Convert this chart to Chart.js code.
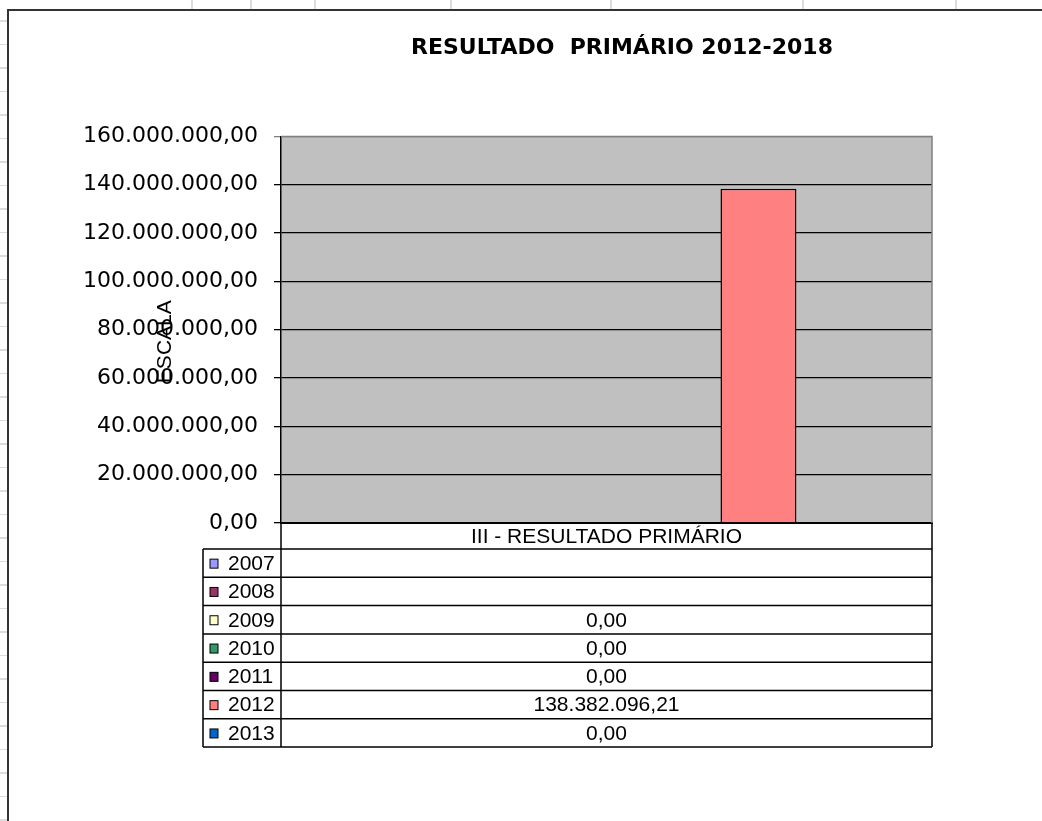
<!DOCTYPE html>
<html>
<head>
<meta charset="utf-8">
<script src="https://cdn.jsdelivr.net/npm/chart.js@4.4.1/dist/chart.umd.min.js"></script>
<style>
  html, body { margin: 0; padding: 0; background: #fff; overflow: hidden; width: 1042px; height: 821px; }
  /* spreadsheet cells behind the chart object */
  #rows { position: absolute; left: 0; top: 0; width: 7px; height: 821px;
    background: repeating-linear-gradient(to bottom, transparent 0px, transparent 20px, #dcdcdc 20px, #dcdcdc 21.5px, transparent 21.5px, transparent 23.5px); }
  .col { position: absolute; top: 0; width: 2px; height: 10px; background: #dcdcdc; }
  #frame { position: absolute; left: 7px; top: 9px; width: 1240px; height: 830px;
    border-left: 2px solid #333; border-top: 2px solid #333; background: #fff; }
  #wrap { position: absolute; left: 0; top: 0; width: 1226px; height: 810px; }
</style>
</head>
<body>
<div id="rows"></div>
<div class="col" style="left:191px"></div>
<div class="col" style="left:250px"></div>
<div class="col" style="left:314px"></div>
<div class="col" style="left:450px"></div>
<div class="col" style="left:610px"></div>
<div class="col" style="left:802px"></div>
<div class="col" style="left:955px"></div>
<div id="frame"><div id="wrap"><canvas id="chart"></canvas></div></div>
<script>
// data
const categories = ["III - RESULTADO PRIMÁRIO"];
const years = ["2007", "2008", "2009", "2010", "2011", "2012", "2013"];
const values = [null, null, 0, 0, 0, 138382096.21, 0];
const colors = ["#9999FF", "#993366", "#FFFFCC", "#339966", "#660066", "#FF8080", "#0066CC"];
const yMax = 160000000;
const yStep = 20000000;

const title = "RESULTADO  PRIMÁRIO 2012-2018";
const yTitle = "ESCALA";

function fmtBR(v) {
	var parts = v.toFixed(2).split(".");
	return parts[0].replace(/\B(?=(\d{3})+(?!\d))/g, ".") + "," + parts[1];
}

// gray plot background
const plotBg = {
	id: "plotBg",
	beforeDraw(chart) {
		const a = chart.chartArea, ctx = chart.ctx;
		ctx.save();
		ctx.fillStyle = "#C0C0C0";
		ctx.fillRect(a.left, a.top, a.right - a.left, a.bottom - a.top);
		ctx.restore();
	}
};

// data table under the plot + axis title over the tick labels
const dataTable = {
	id: "dataTable",
	afterDraw(chart) {
		const a = chart.chartArea, ctx = chart.ctx;
		const headH = 26, rowH = 28.3, legW = 78;
		const legL = a.left - legW;
		const top = a.bottom + headH;
		const bottom = top + rowH * years.length;
		ctx.save();

		// plot border top/right
		ctx.strokeStyle = "#808080";
		ctx.lineWidth = 1.5;
		ctx.beginPath();
		ctx.moveTo(a.left, a.top);
		ctx.lineTo(a.right, a.top);
		ctx.lineTo(a.right, a.bottom);
		ctx.stroke();

		// table lines
		ctx.strokeStyle = "#000";
		ctx.lineWidth = 1.5;
		ctx.beginPath();
		ctx.moveTo(a.left, a.bottom); ctx.lineTo(a.left, bottom);
		ctx.moveTo(a.right, a.bottom); ctx.lineTo(a.right, bottom);
		ctx.moveTo(legL, top); ctx.lineTo(legL, bottom);
		for (var i = 0; i <= years.length; i++) {
			var y = top + i * rowH;
			ctx.moveTo(legL, y); ctx.lineTo(a.right, y);
		}
		ctx.stroke();

		ctx.fillStyle = "#000";
		ctx.font = "21px 'Liberation Sans', Arial, sans-serif";
		ctx.textBaseline = "middle";
		ctx.textAlign = "center";
		var mid = (a.left + a.right) / 2;
		ctx.fillText(categories[0], mid, a.bottom + headH / 2 + 1);

		years.forEach((yr, i) => {
			var cy = top + i * rowH + rowH / 2 + 1;
			// legend key
			ctx.fillStyle = colors[i];
			ctx.fillRect(legL + 7, cy - 5, 8, 9);
			ctx.lineWidth = 1;
			ctx.strokeStyle = "#000";
			ctx.strokeRect(legL + 7, cy - 5, 8, 9);
			ctx.fillStyle = "#000";
			ctx.textAlign = "left";
			ctx.fillText(yr, legL + 25, cy);
			if (values[i] !== null) {
				ctx.textAlign = "center";
				ctx.fillText(fmtBR(values[i]), mid, cy);
			}
		});

		// y axis title, drawn over the tick labels like the original
		ctx.translate(a.left - 116, (a.top + a.bottom) / 2 + 12);
		ctx.rotate(-Math.PI / 2);
		ctx.textAlign = "center";
		ctx.font = "21px 'Liberation Sans', Arial, sans-serif";
		ctx.fillText(yTitle, 0, 0);
		ctx.restore();
	}
};

const datasets = years.map((yr, i) => ({
	label: yr,
	data: [values[i]],
	backgroundColor: colors[i],
	borderColor: "#000",
	borderWidth: 1.5,
	yAxisID: "y"
}));

const ctx = document.getElementById("chart").getContext("2d");
new Chart(ctx, {
	type: "bar",
	data: { labels: categories, datasets: datasets },
	options: {
		responsive: true,
		maintainAspectRatio: false,
		animation: false,
		datasets: { bar: { categoryPercentage: 0.817, barPercentage: 1.0 } },
		layout: { padding: { left: 0, right: 0, top: 0, bottom: 298 } },
		plugins: {
			legend: { display: false },
			tooltip: { enabled: false },
			title: {
				display: true,
				text: title,
				color: "#000",
				font: { family: "'DejaVu Sans', sans-serif", size: 22, weight: "bold" },
				padding: { top: 24, bottom: 75 }
			}
		},
		scales: {
			x: {
				grid: { display: false, drawTicks: false },
				ticks: { display: false },
				border: { display: true, color: "#000", width: 2 }
			},
			y: {
				min: 0,
				max: yMax,
				afterFit: s => { s.width = 272; },
				ticks: {
					stepSize: yStep,
					color: "#000",
					padding: 16,
					font: { family: "'DejaVu Sans', sans-serif", size: 22 },
					callback: v => fmtBR(v)
				},
				grid: {
					color: c => (c.tick && c.tick.value === yMax) ? "#808080" : "#000",
					lineWidth: 1.3,
					tickLength: 7
				},
				border: { display: true, color: "#000", width: 1.5 }
			},
			// empty right side of the chart object (it runs past the window)
			yRight: {
				position: "right",
				display: true,
				afterFit: s => { s.width = 303; },
				grid: { display: false, drawTicks: false },
				ticks: { display: false },
				border: { display: false }
			}
		}
	},
	plugins: [plotBg, dataTable]
});
</script>
</body>
</html>
